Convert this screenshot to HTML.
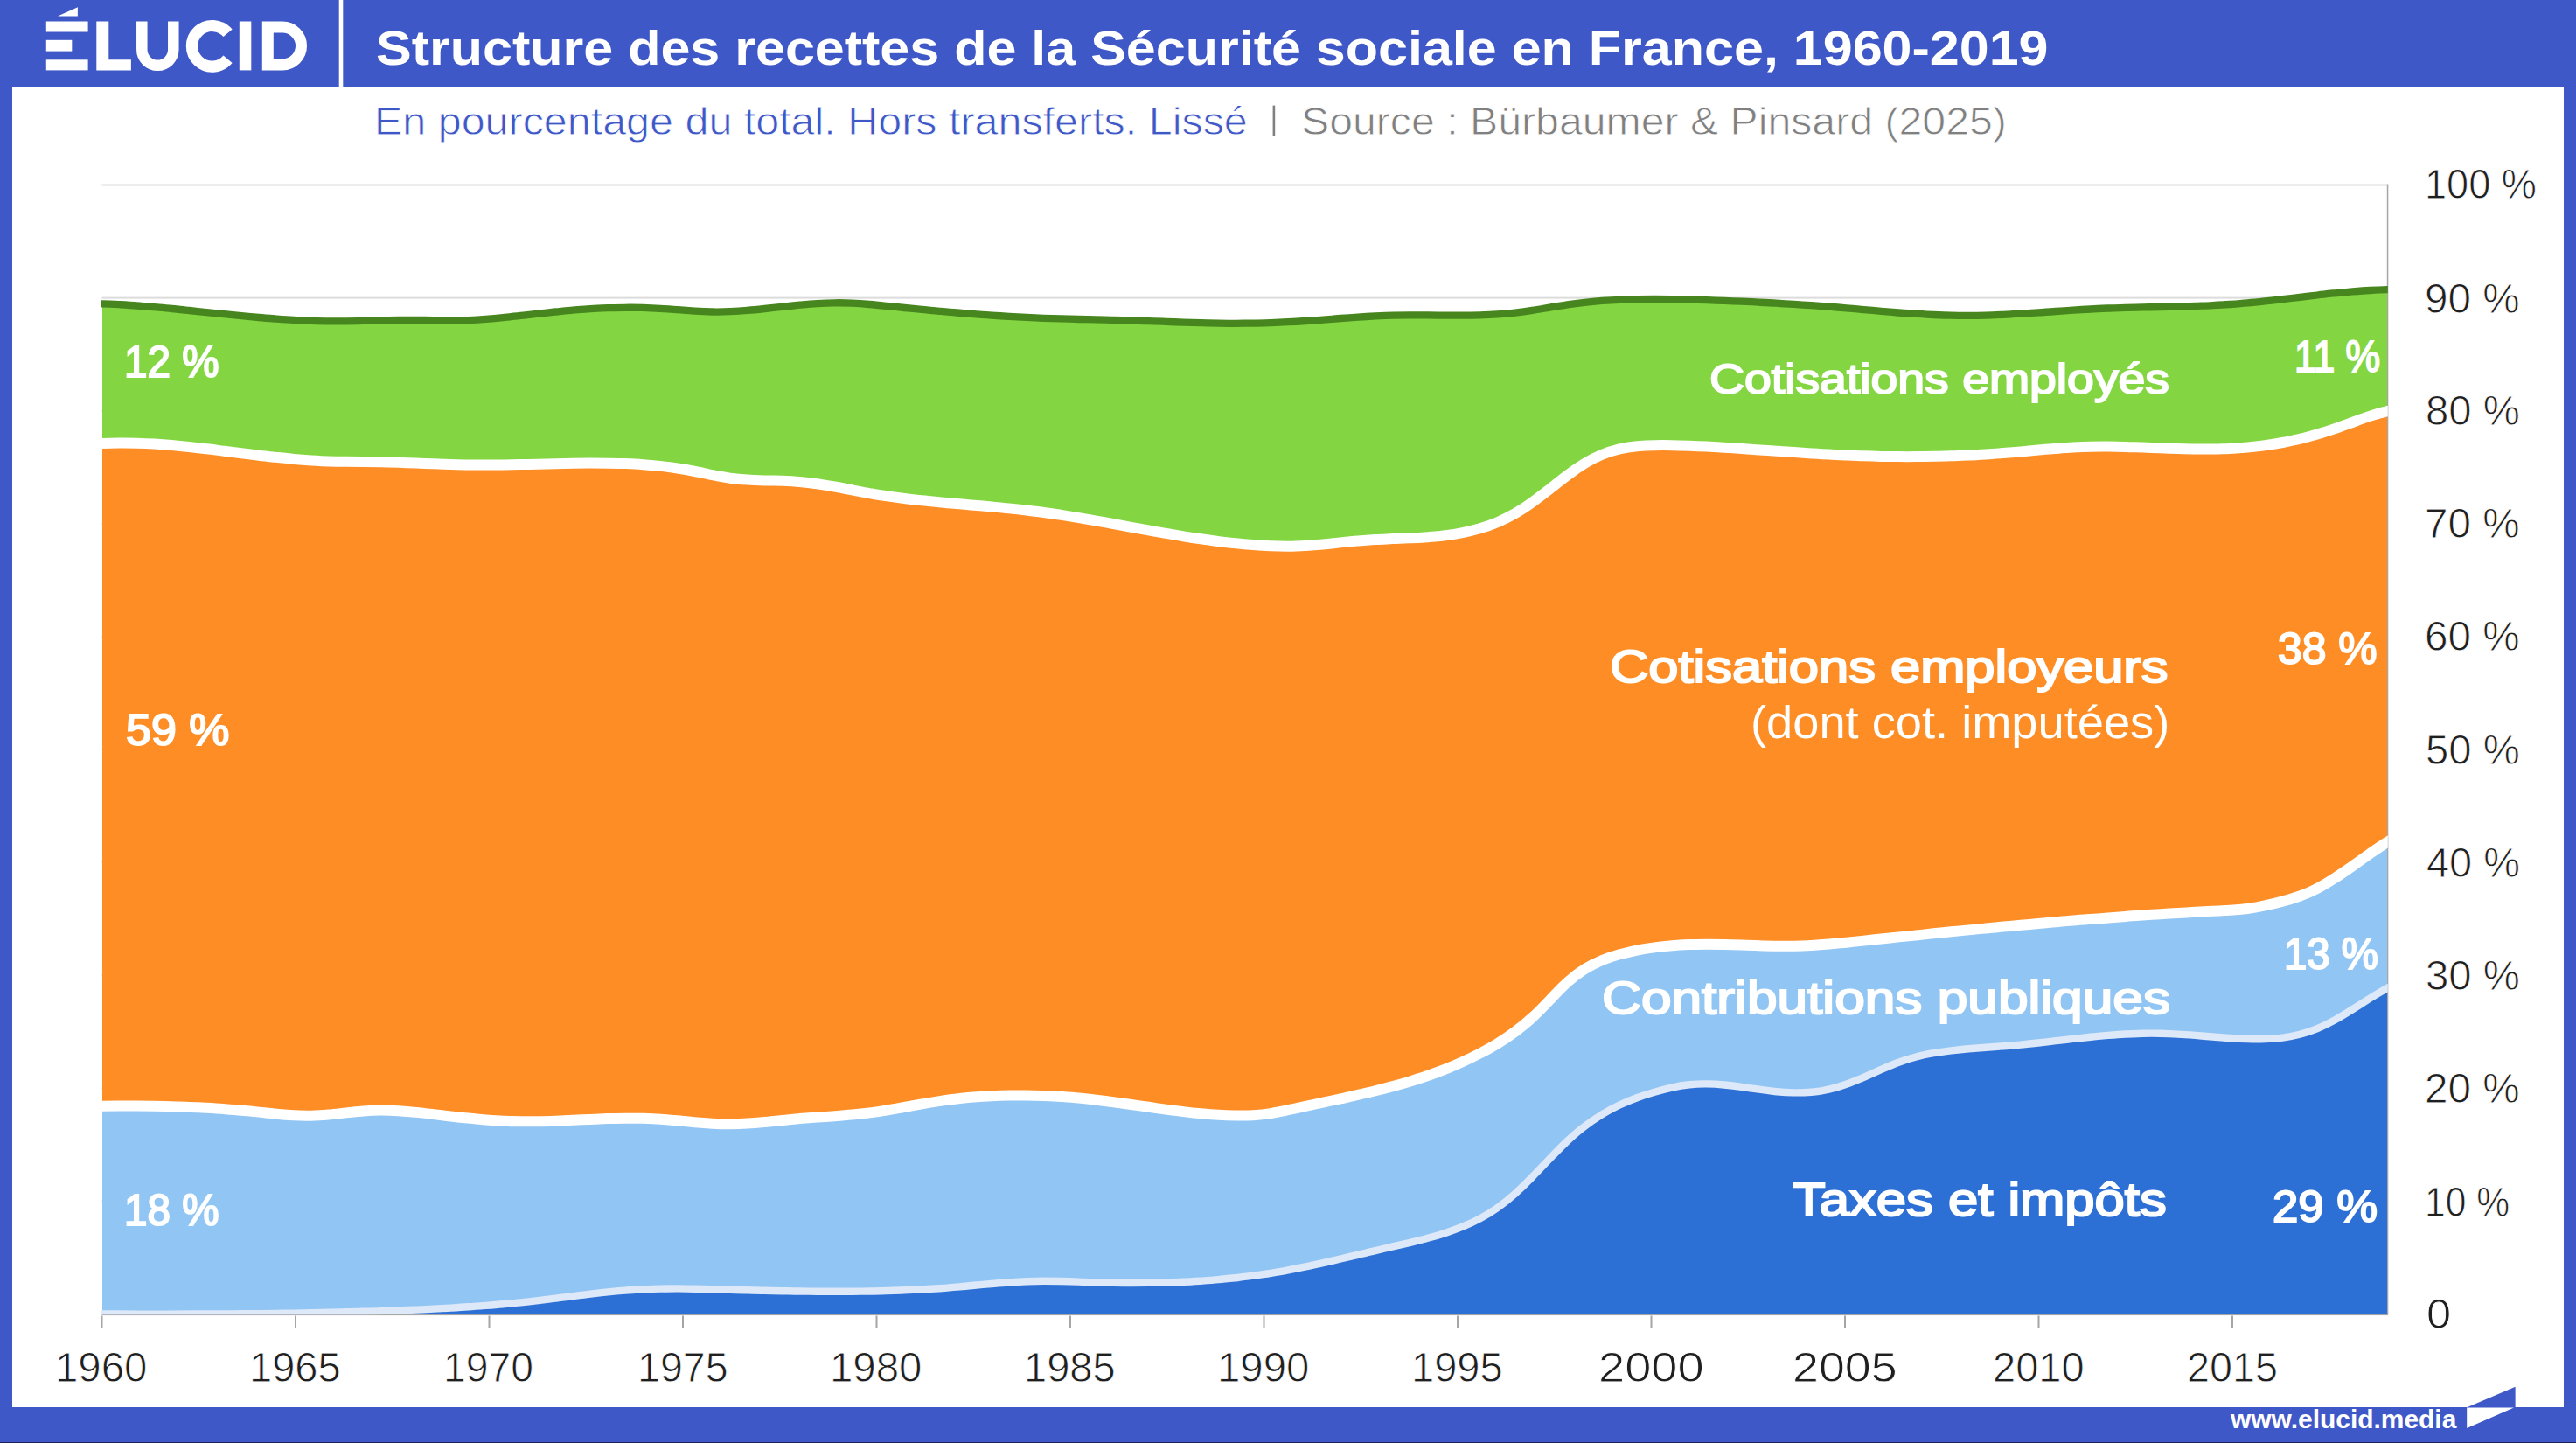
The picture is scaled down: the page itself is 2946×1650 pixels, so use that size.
<!DOCTYPE html>
<html><head><meta charset="utf-8"><title>Structure des recettes de la Sécurité sociale</title>
<style>
html,body{margin:0;padding:0}
body{width:2946px;height:1650px;background:#3f58c8;position:relative;overflow:hidden;font-family:"Liberation Sans",sans-serif}
#panel{position:absolute;left:14px;top:100px;width:2918px;height:1509px;background:#fff}
#bl{position:absolute;left:0;top:1649px;width:2946px;height:1px;background:#1c2258}
svg{position:absolute;left:0;top:0}
.t{position:absolute;white-space:nowrap;transform-origin:0 0}
</style></head><body>
<div id="panel"></div><div id="bl"></div>
<svg width="2946" height="1650" viewBox="0 0 2946 1650">
<rect x="116.5" y="1372.4" width="2613.5" height="2" fill="#dcdcdc"/>
<rect x="116.5" y="1243.3" width="2613.5" height="2" fill="#dcdcdc"/>
<rect x="116.5" y="1114.2" width="2613.5" height="2" fill="#dcdcdc"/>
<rect x="116.5" y="985.1" width="2613.5" height="2" fill="#dcdcdc"/>
<rect x="116.5" y="856.0" width="2613.5" height="2" fill="#dcdcdc"/>
<rect x="116.5" y="726.9" width="2613.5" height="2" fill="#dcdcdc"/>
<rect x="116.5" y="597.8" width="2613.5" height="2" fill="#dcdcdc"/>
<rect x="116.5" y="468.7" width="2613.5" height="2" fill="#dcdcdc"/>
<rect x="116.5" y="339.6" width="2613.5" height="2" fill="#dcdcdc"/>
<rect x="116.5" y="210.5" width="2613.5" height="2" fill="#dcdcdc"/>
<rect x="2729.8" y="210.5" width="1.5" height="1293.0" fill="#a6a6a6"/>
<rect x="116.5" y="1502.5" width="2614.5" height="1.6" fill="#a6a6a6"/>
<rect x="115.5" y="1504.5" width="2" height="14" fill="#a6a6a6"/>
<rect x="337.0" y="1504.5" width="2" height="14" fill="#a6a6a6"/>
<rect x="558.5" y="1504.5" width="2" height="14" fill="#a6a6a6"/>
<rect x="780.0" y="1504.5" width="2" height="14" fill="#a6a6a6"/>
<rect x="1001.5" y="1504.5" width="2" height="14" fill="#a6a6a6"/>
<rect x="1223.0" y="1504.5" width="2" height="14" fill="#a6a6a6"/>
<rect x="1444.5" y="1504.5" width="2" height="14" fill="#a6a6a6"/>
<rect x="1666.0" y="1504.5" width="2" height="14" fill="#a6a6a6"/>
<rect x="1887.5" y="1504.5" width="2" height="14" fill="#a6a6a6"/>
<rect x="2109.0" y="1504.5" width="2" height="14" fill="#a6a6a6"/>
<rect x="2330.5" y="1504.5" width="2" height="14" fill="#a6a6a6"/>
<rect x="2552.0" y="1504.5" width="2" height="14" fill="#a6a6a6"/>
<clipPath id="cp"><rect x="116.0" y="150" width="2614.8" height="1353.3"/></clipPath>
<g shape-rendering="crispEdges">
<path d="M116.5,347.3C123.2,347.5 129.8,347.8 136.5,348.2C143.1,348.6 149.8,349.0 156.4,349.5C163.1,350.0 169.7,350.6 176.4,351.2C183.0,351.7 189.7,352.4 196.3,353.0C203.0,353.6 209.6,354.3 216.3,355.0C222.9,355.7 229.6,356.4 236.2,357.1C242.9,357.8 249.5,358.5 256.2,359.2C262.8,359.8 269.5,360.5 276.1,361.1C282.8,361.8 289.4,362.4 296.1,363.0C302.7,363.6 309.4,364.1 316.0,364.6C322.7,365.1 329.3,365.6 336.0,365.9C342.6,366.3 349.3,366.6 355.9,366.9C362.6,367.1 369.2,367.3 375.9,367.4C382.5,367.5 389.2,367.4 395.8,367.3C402.5,367.3 409.1,367.1 415.8,366.9C422.4,366.7 429.1,366.5 435.7,366.3C442.4,366.1 449.0,366.0 455.7,365.9C462.3,365.8 469.0,365.8 475.6,365.8C482.3,365.9 488.9,366.0 495.6,366.1C502.2,366.3 508.9,366.4 515.5,366.4C522.2,366.4 528.8,366.3 535.5,366.1C542.1,365.8 548.8,365.4 555.4,364.9C562.1,364.4 568.7,363.8 575.4,363.1C582.0,362.4 588.7,361.7 595.3,360.9C602.0,360.2 608.6,359.4 615.3,358.6C621.9,357.9 628.6,357.2 635.2,356.5C641.9,355.9 648.5,355.2 655.2,354.7C661.8,354.1 668.5,353.7 675.1,353.2C681.8,352.8 688.4,352.5 695.1,352.2C701.7,352.0 708.4,351.8 715.0,351.8C721.7,351.7 728.3,351.8 735.0,351.9C741.6,352.1 748.3,352.4 754.9,352.8C761.6,353.2 768.2,353.7 774.9,354.2C781.5,354.7 788.2,355.2 794.8,355.7C801.5,356.1 808.1,356.4 814.8,356.5C821.4,356.6 828.1,356.5 834.7,356.2C841.4,355.9 848.0,355.5 854.7,354.9C861.3,354.4 868.0,353.7 874.6,353.0C881.3,352.3 887.9,351.5 894.6,350.8C901.2,350.1 907.9,349.4 914.5,348.7C921.2,348.1 927.8,347.5 934.5,347.1C941.1,346.7 947.8,346.4 954.4,346.3C961.1,346.2 967.7,346.3 974.4,346.6C981.0,346.9 987.7,347.4 994.3,348.0C1001.0,348.5 1007.6,349.2 1014.3,349.9C1020.9,350.6 1027.6,351.3 1034.2,352.0C1040.9,352.6 1047.5,353.3 1054.2,353.9C1060.8,354.6 1067.5,355.2 1074.1,355.8C1080.8,356.4 1087.4,357.0 1094.1,357.5C1100.7,358.1 1107.4,358.6 1114.0,359.1C1120.7,359.7 1127.3,360.1 1134.0,360.6C1140.6,361.0 1147.3,361.5 1153.9,361.9C1160.6,362.2 1167.2,362.6 1173.9,362.9C1180.5,363.2 1187.2,363.5 1193.8,363.8C1200.5,364.0 1207.1,364.2 1213.8,364.4C1220.4,364.6 1227.1,364.8 1233.7,365.0C1240.4,365.1 1247.0,365.3 1253.7,365.4C1260.3,365.6 1267.0,365.7 1273.6,365.9C1280.3,366.1 1286.9,366.3 1293.6,366.5C1300.2,366.7 1306.9,366.9 1313.5,367.2C1320.2,367.4 1326.8,367.6 1333.5,367.9C1340.1,368.1 1346.8,368.4 1353.4,368.6C1360.1,368.8 1366.7,369.0 1373.4,369.2C1380.0,369.4 1386.7,369.5 1393.3,369.6C1400.0,369.7 1406.6,369.8 1413.3,369.8C1419.9,369.7 1426.6,369.7 1433.2,369.6C1439.9,369.5 1446.5,369.3 1453.2,369.1C1459.8,368.8 1466.5,368.5 1473.1,368.2C1479.8,367.9 1486.4,367.5 1493.1,367.0C1499.7,366.6 1506.4,366.1 1513.0,365.6C1519.7,365.1 1526.3,364.5 1533.0,364.0C1539.6,363.5 1546.3,363.1 1552.9,362.6C1559.6,362.2 1566.2,361.8 1572.9,361.4C1579.5,361.1 1586.2,360.8 1592.8,360.7C1599.5,360.5 1606.1,360.4 1612.8,360.4C1619.4,360.4 1626.1,360.4 1632.7,360.4C1639.4,360.5 1646.0,360.6 1652.7,360.6C1659.3,360.6 1666.0,360.6 1672.6,360.6C1679.3,360.6 1685.9,360.5 1692.6,360.3C1699.2,360.1 1705.9,359.8 1712.5,359.3C1719.2,358.9 1725.8,358.4 1732.5,357.6C1739.1,356.9 1745.8,356.0 1752.4,354.9C1759.1,353.9 1765.7,352.7 1772.4,351.6C1779.0,350.5 1785.7,349.3 1792.3,348.3C1799.0,347.3 1805.6,346.5 1812.3,345.8C1818.9,345.0 1825.6,344.4 1832.2,343.9C1838.9,343.4 1845.5,343.0 1852.2,342.8C1858.8,342.5 1865.5,342.3 1872.1,342.1C1878.8,342.0 1885.4,342.0 1892.1,342.0C1898.7,342.0 1905.4,342.1 1912.0,342.2C1918.7,342.3 1925.3,342.4 1932.0,342.6C1938.6,342.8 1945.3,343.0 1951.9,343.2C1958.6,343.4 1965.2,343.7 1971.9,343.9C1978.5,344.2 1985.2,344.4 1991.8,344.7C1998.5,345.0 2005.1,345.3 2011.8,345.7C2018.4,346.0 2025.1,346.3 2031.7,346.7C2038.4,347.1 2045.0,347.5 2051.7,347.9C2058.3,348.3 2065.0,348.8 2071.6,349.2C2078.3,349.7 2084.9,350.2 2091.6,350.7C2098.2,351.2 2104.9,351.8 2111.5,352.3C2118.2,352.9 2124.8,353.5 2131.5,354.1C2138.1,354.7 2144.8,355.2 2151.4,355.8C2158.1,356.4 2164.7,356.9 2171.4,357.5C2178.0,358.0 2184.7,358.5 2191.3,358.9C2198.0,359.3 2204.6,359.7 2211.3,360.0C2217.9,360.3 2224.6,360.6 2231.2,360.7C2237.9,360.9 2244.5,360.9 2251.2,360.9C2257.8,360.9 2264.5,360.8 2271.1,360.6C2277.8,360.4 2284.4,360.1 2291.1,359.8C2297.7,359.5 2304.4,359.1 2311.0,358.7C2317.7,358.3 2324.3,357.9 2331.0,357.4C2337.6,357.0 2344.3,356.5 2350.9,356.0C2357.6,355.6 2364.2,355.1 2370.9,354.7C2377.5,354.2 2384.2,353.8 2390.8,353.5C2397.5,353.1 2404.1,352.8 2410.8,352.5C2417.4,352.3 2424.1,352.0 2430.7,351.9C2437.4,351.7 2444.0,351.5 2450.7,351.4C2457.3,351.2 2464.0,351.1 2470.6,351.0C2477.3,350.8 2483.9,350.7 2490.6,350.5C2497.2,350.4 2503.9,350.2 2510.5,350.0C2517.2,349.7 2523.8,349.5 2530.5,349.1C2537.1,348.8 2543.8,348.4 2550.4,348.0C2557.1,347.5 2563.7,347.0 2570.4,346.4C2577.0,345.8 2583.7,345.1 2590.3,344.4C2597.0,343.7 2603.6,342.9 2610.3,342.2C2616.9,341.4 2623.6,340.6 2630.2,339.8C2636.9,339.0 2643.5,338.3 2650.2,337.5C2656.8,336.7 2663.5,336.0 2670.1,335.3C2676.8,334.6 2683.4,334.0 2690.1,333.4C2696.7,332.9 2703.4,332.4 2710.0,332.0C2716.7,331.6 2723.3,331.3 2730.0,331.1L2730.0,1503.3L116.5,1503.3Z" fill="#83d641"/>
<path d="M116.5,507.1C123.2,506.8 129.8,506.6 136.5,506.5C143.1,506.4 149.8,506.5 156.4,506.7C163.1,506.9 169.7,507.2 176.4,507.6C183.0,508.0 189.7,508.5 196.3,509.1C203.0,509.7 209.6,510.3 216.3,511.0C222.9,511.7 229.6,512.5 236.2,513.3C242.9,514.0 249.5,514.9 256.2,515.7C262.8,516.5 269.5,517.4 276.1,518.2C282.8,519.1 289.4,519.9 296.1,520.7C302.7,521.5 309.4,522.2 316.0,522.9C322.7,523.6 329.3,524.3 336.0,524.9C342.6,525.5 349.3,526.0 355.9,526.4C362.6,526.8 369.2,527.2 375.9,527.4C382.5,527.6 389.2,527.7 395.8,527.8C402.5,527.8 409.1,527.9 415.8,528.0C422.4,528.0 429.1,528.1 435.7,528.3C442.4,528.4 449.0,528.6 455.7,528.8C462.3,529.1 469.0,529.3 475.6,529.6C482.3,529.8 488.9,530.1 495.6,530.3C502.2,530.5 508.9,530.8 515.5,530.9C522.2,531.1 528.8,531.3 535.5,531.4C542.1,531.5 548.8,531.5 555.4,531.5C562.1,531.5 568.7,531.5 575.4,531.4C582.0,531.3 588.7,531.2 595.3,531.1C602.0,530.9 608.6,530.8 615.3,530.7C621.9,530.5 628.6,530.4 635.2,530.2C641.9,530.1 648.5,529.9 655.2,529.8C661.8,529.7 668.5,529.6 675.1,529.6C681.8,529.6 688.4,529.6 695.1,529.7C701.7,529.7 708.4,529.9 715.0,530.1C721.7,530.4 728.3,530.7 735.0,531.2C741.6,531.6 748.3,532.2 754.9,532.9C761.6,533.6 768.2,534.5 774.9,535.5C781.5,536.5 788.2,537.7 794.8,539.0C801.5,540.3 808.1,541.8 814.8,543.2C821.4,544.5 828.1,545.8 834.7,546.7C841.4,547.6 848.0,548.2 854.7,548.6C861.3,549.0 868.0,549.2 874.6,549.4C881.3,549.6 887.9,549.6 894.6,549.8C901.2,550.0 907.9,550.3 914.5,550.9C921.2,551.4 927.8,552.2 934.5,553.2C941.1,554.2 947.8,555.3 954.4,556.5C961.1,557.7 967.7,559.0 974.4,560.3C981.0,561.6 987.7,562.9 994.3,564.1C1001.0,565.2 1007.6,566.3 1014.3,567.3C1020.9,568.3 1027.6,569.2 1034.2,570.0C1040.9,570.8 1047.5,571.6 1054.2,572.3C1060.8,573.0 1067.5,573.6 1074.1,574.2C1080.8,574.9 1087.4,575.4 1094.1,576.0C1100.7,576.6 1107.4,577.2 1114.0,577.7C1120.7,578.3 1127.3,578.9 1134.0,579.5C1140.6,580.1 1147.3,580.7 1153.9,581.4C1160.6,582.0 1167.2,582.7 1173.9,583.5C1180.5,584.3 1187.2,585.1 1193.8,586.0C1200.5,586.9 1207.1,587.9 1213.8,588.9C1220.4,589.9 1227.1,591.0 1233.7,592.1C1240.4,593.2 1247.0,594.4 1253.7,595.6C1260.3,596.7 1267.0,597.9 1273.6,599.1C1280.3,600.4 1286.9,601.6 1293.6,602.8C1300.2,604.0 1306.9,605.2 1313.5,606.4C1320.2,607.6 1326.8,608.8 1333.5,609.9C1340.1,611.1 1346.8,612.2 1353.4,613.3C1360.1,614.4 1366.7,615.4 1373.4,616.3C1380.0,617.3 1386.7,618.2 1393.3,619.1C1400.0,619.9 1406.6,620.7 1413.3,621.3C1419.9,622.0 1426.6,622.6 1433.2,623.1C1439.9,623.6 1446.5,624.0 1453.2,624.3C1459.8,624.6 1466.5,624.7 1473.1,624.7C1479.8,624.7 1486.4,624.4 1493.1,624.0C1499.7,623.6 1506.4,623.1 1513.0,622.5C1519.7,621.8 1526.3,621.1 1533.0,620.4C1539.6,619.7 1546.3,619.0 1552.9,618.5C1559.6,617.9 1566.2,617.4 1572.9,617.0C1579.5,616.6 1586.2,616.4 1592.8,616.1C1599.5,615.9 1606.1,615.6 1612.8,615.3C1619.4,615.1 1626.1,614.7 1632.7,614.2C1639.4,613.8 1646.0,613.1 1652.7,612.3C1659.3,611.5 1666.0,610.5 1672.6,609.2C1679.3,607.8 1685.9,606.2 1692.6,604.3C1699.2,602.3 1705.9,600.0 1712.5,597.2C1719.2,594.4 1725.8,591.1 1732.5,587.3C1739.1,583.4 1745.8,579.1 1752.4,574.3C1759.1,569.6 1765.7,564.4 1772.4,559.2C1779.0,553.9 1785.7,548.6 1792.3,543.6C1799.0,538.6 1805.6,534.0 1812.3,529.9C1818.9,525.8 1825.6,522.4 1832.2,519.7C1838.9,517.0 1845.5,514.9 1852.2,513.4C1858.8,511.9 1865.5,510.9 1872.1,510.3C1878.8,509.7 1885.4,509.3 1892.1,509.2C1898.7,509.1 1905.4,509.1 1912.0,509.2C1918.7,509.3 1925.3,509.5 1932.0,509.7C1938.6,509.9 1945.3,510.2 1951.9,510.6C1958.6,510.9 1965.2,511.3 1971.9,511.7C1978.5,512.1 1985.2,512.6 1991.8,513.0C1998.5,513.5 2005.1,513.9 2011.8,514.4C2018.4,514.8 2025.1,515.3 2031.7,515.7C2038.4,516.2 2045.0,516.7 2051.7,517.1C2058.3,517.5 2065.0,518.0 2071.6,518.4C2078.3,518.8 2084.9,519.2 2091.6,519.5C2098.2,519.9 2104.9,520.2 2111.5,520.5C2118.2,520.8 2124.8,521.1 2131.5,521.3C2138.1,521.5 2144.8,521.7 2151.4,521.9C2158.1,522.0 2164.7,522.1 2171.4,522.1C2178.0,522.2 2184.7,522.2 2191.3,522.1C2198.0,522.1 2204.6,522.0 2211.3,521.8C2217.9,521.7 2224.6,521.5 2231.2,521.3C2237.9,521.1 2244.5,520.8 2251.2,520.5C2257.8,520.2 2264.5,519.8 2271.1,519.4C2277.8,519.0 2284.4,518.5 2291.1,518.0C2297.7,517.5 2304.4,516.9 2311.0,516.4C2317.7,515.8 2324.3,515.2 2331.0,514.6C2337.6,514.0 2344.3,513.5 2350.9,513.0C2357.6,512.5 2364.2,512.0 2370.9,511.6C2377.5,511.2 2384.2,510.9 2390.8,510.8C2397.5,510.6 2404.1,510.5 2410.8,510.6C2417.4,510.6 2424.1,510.7 2430.7,510.9C2437.4,511.0 2444.0,511.3 2450.7,511.5C2457.3,511.8 2464.0,512.0 2470.6,512.3C2477.3,512.5 2483.9,512.8 2490.6,513.0C2497.2,513.2 2503.9,513.4 2510.5,513.5C2517.2,513.6 2523.8,513.6 2530.5,513.5C2537.1,513.4 2543.8,513.3 2550.4,512.9C2557.1,512.6 2563.7,512.2 2570.4,511.6C2577.0,511.0 2583.7,510.2 2590.3,509.3C2597.0,508.4 2603.6,507.3 2610.3,506.0C2616.9,504.8 2623.6,503.3 2630.2,501.8C2636.9,500.2 2643.5,498.4 2650.2,496.5C2656.8,494.5 2663.5,492.4 2670.1,490.1C2676.8,487.9 2683.4,485.4 2690.1,483.0C2696.7,480.5 2703.4,478.1 2710.0,475.9C2716.7,473.7 2723.3,471.8 2730.0,470.2L2730.0,1503.3L116.5,1503.3Z" fill="#fd8d24"/>
<path d="M116.5,1264.8C123.2,1264.7 129.8,1264.6 136.5,1264.6C143.1,1264.6 149.8,1264.6 156.4,1264.6C163.1,1264.6 169.7,1264.7 176.4,1264.8C183.0,1264.9 189.7,1265.0 196.3,1265.2C203.0,1265.4 209.6,1265.6 216.3,1265.9C222.9,1266.2 229.6,1266.5 236.2,1266.8C242.9,1267.2 249.5,1267.6 256.2,1268.1C262.8,1268.6 269.5,1269.1 276.1,1269.7C282.8,1270.3 289.4,1270.9 296.1,1271.6C302.7,1272.3 309.4,1273.1 316.0,1273.7C322.7,1274.4 329.3,1274.9 336.0,1275.3C342.6,1275.7 349.3,1275.8 355.9,1275.7C362.6,1275.6 369.2,1275.1 375.9,1274.5C382.5,1273.9 389.2,1273.1 395.8,1272.4C402.5,1271.6 409.1,1270.9 415.8,1270.4C422.4,1269.9 429.1,1269.6 435.7,1269.5C442.4,1269.5 449.0,1269.8 455.7,1270.2C462.3,1270.6 469.0,1271.2 475.6,1271.9C482.3,1272.5 488.9,1273.3 495.6,1274.1C502.2,1274.9 508.9,1275.7 515.5,1276.5C522.2,1277.3 528.8,1278.0 535.5,1278.6C542.1,1279.3 548.8,1279.9 555.4,1280.4C562.1,1280.9 568.7,1281.4 575.4,1281.7C582.0,1282.0 588.7,1282.2 595.3,1282.3C602.0,1282.4 608.6,1282.3 615.3,1282.2C621.9,1282.1 628.6,1281.9 635.2,1281.7C641.9,1281.4 648.5,1281.1 655.2,1280.8C661.8,1280.5 668.5,1280.2 675.1,1279.9C681.8,1279.6 688.4,1279.4 695.1,1279.1C701.7,1278.9 708.4,1278.8 715.0,1278.7C721.7,1278.6 728.3,1278.7 735.0,1278.8C741.6,1279.0 748.3,1279.2 754.9,1279.7C761.6,1280.1 768.2,1280.7 774.9,1281.3C781.5,1281.9 788.2,1282.6 794.8,1283.2C801.5,1283.8 808.1,1284.3 814.8,1284.7C821.4,1285.1 828.1,1285.3 834.7,1285.3C841.4,1285.2 848.0,1285.0 854.7,1284.6C861.3,1284.2 868.0,1283.6 874.6,1283.0C881.3,1282.4 887.9,1281.7 894.6,1281.0C901.2,1280.3 907.9,1279.7 914.5,1279.1C921.2,1278.5 927.8,1278.0 934.5,1277.6C941.1,1277.1 947.8,1276.7 954.4,1276.2C961.1,1275.7 967.7,1275.2 974.4,1274.6C981.0,1274.0 987.7,1273.3 994.3,1272.4C1001.0,1271.6 1007.6,1270.5 1014.3,1269.5C1020.9,1268.4 1027.6,1267.2 1034.2,1266.0C1040.9,1264.8 1047.5,1263.6 1054.2,1262.4C1060.8,1261.2 1067.5,1260.1 1074.1,1259.1C1080.8,1258.1 1087.4,1257.2 1094.1,1256.5C1100.7,1255.7 1107.4,1255.1 1114.0,1254.5C1120.7,1254.0 1127.3,1253.6 1134.0,1253.3C1140.6,1252.9 1147.3,1252.7 1153.9,1252.6C1160.6,1252.5 1167.2,1252.5 1173.9,1252.5C1180.5,1252.6 1187.2,1252.8 1193.8,1253.0C1200.5,1253.3 1207.1,1253.6 1213.8,1254.0C1220.4,1254.5 1227.1,1255.0 1233.7,1255.6C1240.4,1256.2 1247.0,1256.9 1253.7,1257.7C1260.3,1258.5 1267.0,1259.3 1273.6,1260.2C1280.3,1261.1 1286.9,1262.0 1293.6,1263.0C1300.2,1263.9 1306.9,1264.9 1313.5,1265.8C1320.2,1266.8 1326.8,1267.7 1333.5,1268.6C1340.1,1269.5 1346.8,1270.3 1353.4,1271.1C1360.1,1271.9 1366.7,1272.6 1373.4,1273.2C1380.0,1273.8 1386.7,1274.4 1393.3,1274.8C1400.0,1275.2 1406.6,1275.4 1413.3,1275.5C1419.9,1275.7 1426.6,1275.6 1433.2,1275.2C1439.9,1274.8 1446.5,1274.1 1453.2,1273.1C1459.8,1272.1 1466.5,1270.7 1473.1,1269.2C1479.8,1267.8 1486.4,1266.3 1493.1,1264.9C1499.7,1263.5 1506.4,1262.0 1513.0,1260.6C1519.7,1259.2 1526.3,1257.8 1533.0,1256.4C1539.6,1254.9 1546.3,1253.5 1552.9,1251.9C1559.6,1250.4 1566.2,1248.9 1572.9,1247.2C1579.5,1245.6 1586.2,1243.9 1592.8,1242.1C1599.5,1240.3 1606.1,1238.4 1612.8,1236.4C1619.4,1234.4 1626.1,1232.2 1632.7,1230.0C1639.4,1227.7 1646.0,1225.2 1652.7,1222.6C1659.3,1220.0 1666.0,1217.2 1672.6,1214.1C1679.3,1211.1 1685.9,1207.9 1692.6,1204.5C1699.2,1201.0 1705.9,1197.4 1712.5,1193.3C1719.2,1189.3 1725.8,1184.9 1732.5,1179.9C1739.1,1175.0 1745.8,1169.6 1752.4,1163.5C1759.1,1157.5 1765.7,1150.6 1772.4,1143.5C1779.0,1136.5 1785.7,1129.4 1792.3,1123.4C1799.0,1117.4 1805.6,1112.4 1812.3,1108.2C1818.9,1104.1 1825.6,1100.8 1832.2,1098.0C1838.9,1095.3 1845.5,1093.1 1852.2,1091.3C1858.8,1089.5 1865.5,1088.0 1872.1,1086.6C1878.8,1085.3 1885.4,1084.3 1892.1,1083.4C1898.7,1082.5 1905.4,1081.8 1912.0,1081.3C1918.7,1080.7 1925.3,1080.4 1932.0,1080.1C1938.6,1079.9 1945.3,1079.8 1951.9,1079.7C1958.6,1079.7 1965.2,1079.8 1971.9,1079.9C1978.5,1080.0 1985.2,1080.2 1991.8,1080.5C1998.5,1080.7 2005.1,1080.9 2011.8,1081.2C2018.4,1081.4 2025.1,1081.6 2031.7,1081.7C2038.4,1081.8 2045.0,1081.8 2051.7,1081.7C2058.3,1081.6 2065.0,1081.3 2071.6,1080.9C2078.3,1080.6 2084.9,1080.1 2091.6,1079.5C2098.2,1078.9 2104.9,1078.3 2111.5,1077.7C2118.2,1077.0 2124.8,1076.3 2131.5,1075.6C2138.1,1074.9 2144.8,1074.2 2151.4,1073.5C2158.1,1072.8 2164.7,1072.1 2171.4,1071.4C2178.0,1070.7 2184.7,1070.0 2191.3,1069.4C2198.0,1068.7 2204.6,1068.0 2211.3,1067.3C2217.9,1066.7 2224.6,1066.0 2231.2,1065.3C2237.9,1064.7 2244.5,1064.0 2251.2,1063.4C2257.8,1062.7 2264.5,1062.1 2271.1,1061.5C2277.8,1060.8 2284.4,1060.2 2291.1,1059.6C2297.7,1059.0 2304.4,1058.4 2311.0,1057.8C2317.7,1057.2 2324.3,1056.6 2331.0,1056.0C2337.6,1055.4 2344.3,1054.8 2350.9,1054.3C2357.6,1053.7 2364.2,1053.1 2370.9,1052.6C2377.5,1052.0 2384.2,1051.5 2390.8,1051.0C2397.5,1050.4 2404.1,1049.9 2410.8,1049.4C2417.4,1048.9 2424.1,1048.4 2430.7,1047.9C2437.4,1047.5 2444.0,1047.0 2450.7,1046.5C2457.3,1046.1 2464.0,1045.6 2470.6,1045.2C2477.3,1044.8 2483.9,1044.4 2490.6,1044.0C2497.2,1043.6 2503.9,1043.2 2510.5,1042.8C2517.2,1042.4 2523.8,1042.1 2530.5,1041.7C2537.1,1041.4 2543.8,1041.1 2550.4,1040.7C2557.1,1040.4 2563.7,1039.9 2570.4,1039.0C2577.0,1038.1 2583.7,1036.9 2590.3,1035.4C2597.0,1034.0 2603.6,1032.4 2610.3,1030.6C2616.9,1028.9 2623.6,1026.9 2630.2,1024.5C2636.9,1022.1 2643.5,1019.2 2650.2,1015.8C2656.8,1012.3 2663.5,1008.3 2670.1,1004.0C2676.8,999.8 2683.4,995.2 2690.1,990.5C2696.7,985.8 2703.4,981.0 2710.0,976.3C2716.7,971.7 2723.3,967.1 2730.0,962.9L2730.0,1503.3L116.5,1503.3Z" fill="#91c5f3"/>
<path d="M116.5,1502.5C123.2,1502.5 129.8,1502.5 136.5,1502.5C143.1,1502.5 149.8,1502.5 156.4,1502.6C163.1,1502.6 169.7,1502.6 176.4,1502.6C183.0,1502.6 189.7,1502.6 196.3,1502.6C203.0,1502.6 209.6,1502.6 216.3,1502.5C222.9,1502.5 229.6,1502.5 236.2,1502.5C242.9,1502.5 249.5,1502.4 256.2,1502.4C262.8,1502.4 269.5,1502.3 276.1,1502.3C282.8,1502.2 289.4,1502.2 296.1,1502.1C302.7,1502.0 309.4,1501.9 316.0,1501.9C322.7,1501.8 329.3,1501.7 336.0,1501.6C342.6,1501.5 349.3,1501.4 355.9,1501.2C362.6,1501.1 369.2,1501.0 375.9,1500.8C382.5,1500.7 389.2,1500.5 395.8,1500.3C402.5,1500.2 409.1,1500.0 415.8,1499.8C422.4,1499.6 429.1,1499.4 435.7,1499.1C442.4,1498.9 449.0,1498.7 455.7,1498.4C462.3,1498.1 469.0,1497.9 475.6,1497.6C482.3,1497.3 488.9,1497.0 495.6,1496.6C502.2,1496.3 508.9,1495.9 515.5,1495.6C522.2,1495.2 528.8,1494.8 535.5,1494.3C542.1,1493.9 548.8,1493.4 555.4,1492.9C562.1,1492.4 568.7,1491.9 575.4,1491.3C582.0,1490.7 588.7,1490.1 595.3,1489.4C602.0,1488.7 608.6,1488.0 615.3,1487.2C621.9,1486.4 628.6,1485.5 635.2,1484.7C641.9,1483.8 648.5,1482.9 655.2,1482.1C661.8,1481.2 668.5,1480.4 675.1,1479.6C681.8,1478.8 688.4,1478.1 695.1,1477.4C701.7,1476.7 708.4,1476.1 715.0,1475.6C721.7,1475.1 728.3,1474.7 735.0,1474.3C741.6,1474.0 748.3,1473.7 754.9,1473.6C761.6,1473.4 768.2,1473.4 774.9,1473.4C781.5,1473.5 788.2,1473.6 794.8,1473.8C801.5,1474.0 808.1,1474.1 814.8,1474.3C821.4,1474.5 828.1,1474.7 834.7,1474.8C841.4,1475.0 848.0,1475.2 854.7,1475.3C861.3,1475.5 868.0,1475.7 874.6,1475.8C881.3,1476.0 887.9,1476.1 894.6,1476.2C901.2,1476.3 907.9,1476.5 914.5,1476.5C921.2,1476.6 927.8,1476.7 934.5,1476.8C941.1,1476.8 947.8,1476.8 954.4,1476.8C961.1,1476.8 967.7,1476.8 974.4,1476.8C981.0,1476.7 987.7,1476.6 994.3,1476.5C1001.0,1476.4 1007.6,1476.2 1014.3,1476.0C1020.9,1475.8 1027.6,1475.6 1034.2,1475.3C1040.9,1475.1 1047.5,1474.8 1054.2,1474.4C1060.8,1474.0 1067.5,1473.6 1074.1,1473.2C1080.8,1472.7 1087.4,1472.2 1094.1,1471.6C1100.7,1471.0 1107.4,1470.4 1114.0,1469.8C1120.7,1469.2 1127.3,1468.6 1134.0,1468.0C1140.6,1467.4 1147.3,1466.9 1153.9,1466.4C1160.6,1465.9 1167.2,1465.5 1173.9,1465.3C1180.5,1465.0 1187.2,1464.8 1193.8,1464.8C1200.5,1464.8 1207.1,1464.9 1213.8,1465.0C1220.4,1465.2 1227.1,1465.4 1233.7,1465.6C1240.4,1465.9 1247.0,1466.1 1253.7,1466.3C1260.3,1466.5 1267.0,1466.7 1273.6,1466.8C1280.3,1466.9 1286.9,1467.0 1293.6,1467.0C1300.2,1467.0 1306.9,1467.0 1313.5,1466.9C1320.2,1466.9 1326.8,1466.7 1333.5,1466.5C1340.1,1466.3 1346.8,1466.1 1353.4,1465.8C1360.1,1465.5 1366.7,1465.1 1373.4,1464.7C1380.0,1464.2 1386.7,1463.7 1393.3,1463.1C1400.0,1462.6 1406.6,1461.9 1413.3,1461.2C1419.9,1460.4 1426.6,1459.6 1433.2,1458.7C1439.9,1457.8 1446.5,1456.9 1453.2,1455.8C1459.8,1454.7 1466.5,1453.6 1473.1,1452.3C1479.8,1451.1 1486.4,1449.8 1493.1,1448.4C1499.7,1447.0 1506.4,1445.6 1513.0,1444.1C1519.7,1442.6 1526.3,1441.1 1533.0,1439.5C1539.6,1437.9 1546.3,1436.4 1552.9,1434.8C1559.6,1433.2 1566.2,1431.6 1572.9,1430.1C1579.5,1428.5 1586.2,1427.0 1592.8,1425.4C1599.5,1423.9 1606.1,1422.4 1612.8,1420.8C1619.4,1419.2 1626.1,1417.6 1632.7,1415.8C1639.4,1414.0 1646.0,1412.1 1652.7,1409.9C1659.3,1407.8 1666.0,1405.4 1672.6,1402.7C1679.3,1400.0 1685.9,1397.0 1692.6,1393.4C1699.2,1389.9 1705.9,1385.8 1712.5,1381.1C1719.2,1376.5 1725.8,1371.2 1732.5,1365.2C1739.1,1359.2 1745.8,1352.6 1752.4,1345.8C1759.1,1339.0 1765.7,1331.9 1772.4,1324.9C1779.0,1318.0 1785.7,1311.2 1792.3,1304.9C1799.0,1298.6 1805.6,1292.9 1812.3,1287.9C1818.9,1282.8 1825.6,1278.3 1832.2,1274.2C1838.9,1270.2 1845.5,1266.6 1852.2,1263.5C1858.8,1260.4 1865.5,1257.6 1872.1,1255.2C1878.8,1252.7 1885.4,1250.6 1892.1,1248.7C1898.7,1246.8 1905.4,1245.1 1912.0,1243.6C1918.7,1242.1 1925.3,1241.0 1932.0,1240.3C1938.6,1239.6 1945.3,1239.3 1951.9,1239.4C1958.6,1239.4 1965.2,1239.8 1971.9,1240.5C1978.5,1241.1 1985.2,1241.9 1991.8,1242.9C1998.5,1243.8 2005.1,1244.8 2011.8,1245.7C2018.4,1246.7 2025.1,1247.5 2031.7,1248.2C2038.4,1248.8 2045.0,1249.2 2051.7,1249.4C2058.3,1249.5 2065.0,1249.3 2071.6,1248.7C2078.3,1248.2 2084.9,1247.2 2091.6,1245.6C2098.2,1244.1 2104.9,1242.1 2111.5,1239.7C2118.2,1237.3 2124.8,1234.6 2131.5,1231.8C2138.1,1228.9 2144.8,1225.9 2151.4,1222.9C2158.1,1220.0 2164.7,1217.2 2171.4,1214.7C2178.0,1212.2 2184.7,1210.2 2191.3,1208.5C2198.0,1206.7 2204.6,1205.4 2211.3,1204.2C2217.9,1203.0 2224.6,1202.1 2231.2,1201.3C2237.9,1200.5 2244.5,1199.8 2251.2,1199.2C2257.8,1198.7 2264.5,1198.2 2271.1,1197.7C2277.8,1197.2 2284.4,1196.8 2291.1,1196.3C2297.7,1195.8 2304.4,1195.2 2311.0,1194.6C2317.7,1193.9 2324.3,1193.2 2331.0,1192.5C2337.6,1191.8 2344.3,1191.0 2350.9,1190.2C2357.6,1189.5 2364.2,1188.7 2370.9,1187.9C2377.5,1187.2 2384.2,1186.5 2390.8,1185.8C2397.5,1185.1 2404.1,1184.5 2410.8,1183.9C2417.4,1183.4 2424.1,1182.9 2430.7,1182.5C2437.4,1182.1 2444.0,1181.9 2450.7,1181.7C2457.3,1181.6 2464.0,1181.6 2470.6,1181.7C2477.3,1181.9 2483.9,1182.2 2490.6,1182.6C2497.2,1182.9 2503.9,1183.4 2510.5,1183.9C2517.2,1184.4 2523.8,1185.0 2530.5,1185.5C2537.1,1186.0 2543.8,1186.6 2550.4,1187.0C2557.1,1187.5 2563.7,1187.9 2570.4,1188.1C2577.0,1188.3 2583.7,1188.4 2590.3,1188.1C2597.0,1187.9 2603.6,1187.4 2610.3,1186.6C2616.9,1185.7 2623.6,1184.5 2630.2,1182.8C2636.9,1181.1 2643.5,1178.9 2650.2,1176.2C2656.8,1173.4 2663.5,1170.1 2670.1,1166.4C2676.8,1162.7 2683.4,1158.6 2690.1,1154.4C2696.7,1150.2 2703.4,1146.0 2710.0,1141.8C2716.7,1137.6 2723.3,1133.6 2730.0,1129.9L2730.0,1503.3L116.5,1503.3Z" fill="#2d70d5"/>
</g>
<g clip-path="url(#cp)" fill="none">
<path d="M106.5,346.9L116.5,347.3C123.2,347.5 129.8,347.8 136.5,348.2C143.1,348.6 149.8,349.0 156.4,349.5C163.1,350.0 169.7,350.6 176.4,351.2C183.0,351.7 189.7,352.4 196.3,353.0C203.0,353.6 209.6,354.3 216.3,355.0C222.9,355.7 229.6,356.4 236.2,357.1C242.9,357.8 249.5,358.5 256.2,359.2C262.8,359.8 269.5,360.5 276.1,361.1C282.8,361.8 289.4,362.4 296.1,363.0C302.7,363.6 309.4,364.1 316.0,364.6C322.7,365.1 329.3,365.6 336.0,365.9C342.6,366.3 349.3,366.6 355.9,366.9C362.6,367.1 369.2,367.3 375.9,367.4C382.5,367.5 389.2,367.4 395.8,367.3C402.5,367.3 409.1,367.1 415.8,366.9C422.4,366.7 429.1,366.5 435.7,366.3C442.4,366.1 449.0,366.0 455.7,365.9C462.3,365.8 469.0,365.8 475.6,365.8C482.3,365.9 488.9,366.0 495.6,366.1C502.2,366.3 508.9,366.4 515.5,366.4C522.2,366.4 528.8,366.3 535.5,366.1C542.1,365.8 548.8,365.4 555.4,364.9C562.1,364.4 568.7,363.8 575.4,363.1C582.0,362.4 588.7,361.7 595.3,360.9C602.0,360.2 608.6,359.4 615.3,358.6C621.9,357.9 628.6,357.2 635.2,356.5C641.9,355.9 648.5,355.2 655.2,354.7C661.8,354.1 668.5,353.7 675.1,353.2C681.8,352.8 688.4,352.5 695.1,352.2C701.7,352.0 708.4,351.8 715.0,351.8C721.7,351.7 728.3,351.8 735.0,351.9C741.6,352.1 748.3,352.4 754.9,352.8C761.6,353.2 768.2,353.7 774.9,354.2C781.5,354.7 788.2,355.2 794.8,355.7C801.5,356.1 808.1,356.4 814.8,356.5C821.4,356.6 828.1,356.5 834.7,356.2C841.4,355.9 848.0,355.5 854.7,354.9C861.3,354.4 868.0,353.7 874.6,353.0C881.3,352.3 887.9,351.5 894.6,350.8C901.2,350.1 907.9,349.4 914.5,348.7C921.2,348.1 927.8,347.5 934.5,347.1C941.1,346.7 947.8,346.4 954.4,346.3C961.1,346.2 967.7,346.3 974.4,346.6C981.0,346.9 987.7,347.4 994.3,348.0C1001.0,348.5 1007.6,349.2 1014.3,349.9C1020.9,350.6 1027.6,351.3 1034.2,352.0C1040.9,352.6 1047.5,353.3 1054.2,353.9C1060.8,354.6 1067.5,355.2 1074.1,355.8C1080.8,356.4 1087.4,357.0 1094.1,357.5C1100.7,358.1 1107.4,358.6 1114.0,359.1C1120.7,359.7 1127.3,360.1 1134.0,360.6C1140.6,361.0 1147.3,361.5 1153.9,361.9C1160.6,362.2 1167.2,362.6 1173.9,362.9C1180.5,363.2 1187.2,363.5 1193.8,363.8C1200.5,364.0 1207.1,364.2 1213.8,364.4C1220.4,364.6 1227.1,364.8 1233.7,365.0C1240.4,365.1 1247.0,365.3 1253.7,365.4C1260.3,365.6 1267.0,365.7 1273.6,365.9C1280.3,366.1 1286.9,366.3 1293.6,366.5C1300.2,366.7 1306.9,366.9 1313.5,367.2C1320.2,367.4 1326.8,367.6 1333.5,367.9C1340.1,368.1 1346.8,368.4 1353.4,368.6C1360.1,368.8 1366.7,369.0 1373.4,369.2C1380.0,369.4 1386.7,369.5 1393.3,369.6C1400.0,369.7 1406.6,369.8 1413.3,369.8C1419.9,369.7 1426.6,369.7 1433.2,369.6C1439.9,369.5 1446.5,369.3 1453.2,369.1C1459.8,368.8 1466.5,368.5 1473.1,368.2C1479.8,367.9 1486.4,367.5 1493.1,367.0C1499.7,366.6 1506.4,366.1 1513.0,365.6C1519.7,365.1 1526.3,364.5 1533.0,364.0C1539.6,363.5 1546.3,363.1 1552.9,362.6C1559.6,362.2 1566.2,361.8 1572.9,361.4C1579.5,361.1 1586.2,360.8 1592.8,360.7C1599.5,360.5 1606.1,360.4 1612.8,360.4C1619.4,360.4 1626.1,360.4 1632.7,360.4C1639.4,360.5 1646.0,360.6 1652.7,360.6C1659.3,360.6 1666.0,360.6 1672.6,360.6C1679.3,360.6 1685.9,360.5 1692.6,360.3C1699.2,360.1 1705.9,359.8 1712.5,359.3C1719.2,358.9 1725.8,358.4 1732.5,357.6C1739.1,356.9 1745.8,356.0 1752.4,354.9C1759.1,353.9 1765.7,352.7 1772.4,351.6C1779.0,350.5 1785.7,349.3 1792.3,348.3C1799.0,347.3 1805.6,346.5 1812.3,345.8C1818.9,345.0 1825.6,344.4 1832.2,343.9C1838.9,343.4 1845.5,343.0 1852.2,342.8C1858.8,342.5 1865.5,342.3 1872.1,342.1C1878.8,342.0 1885.4,342.0 1892.1,342.0C1898.7,342.0 1905.4,342.1 1912.0,342.2C1918.7,342.3 1925.3,342.4 1932.0,342.6C1938.6,342.8 1945.3,343.0 1951.9,343.2C1958.6,343.4 1965.2,343.7 1971.9,343.9C1978.5,344.2 1985.2,344.4 1991.8,344.7C1998.5,345.0 2005.1,345.3 2011.8,345.7C2018.4,346.0 2025.1,346.3 2031.7,346.7C2038.4,347.1 2045.0,347.5 2051.7,347.9C2058.3,348.3 2065.0,348.8 2071.6,349.2C2078.3,349.7 2084.9,350.2 2091.6,350.7C2098.2,351.2 2104.9,351.8 2111.5,352.3C2118.2,352.9 2124.8,353.5 2131.5,354.1C2138.1,354.7 2144.8,355.2 2151.4,355.8C2158.1,356.4 2164.7,356.9 2171.4,357.5C2178.0,358.0 2184.7,358.5 2191.3,358.9C2198.0,359.3 2204.6,359.7 2211.3,360.0C2217.9,360.3 2224.6,360.6 2231.2,360.7C2237.9,360.9 2244.5,360.9 2251.2,360.9C2257.8,360.9 2264.5,360.8 2271.1,360.6C2277.8,360.4 2284.4,360.1 2291.1,359.8C2297.7,359.5 2304.4,359.1 2311.0,358.7C2317.7,358.3 2324.3,357.9 2331.0,357.4C2337.6,357.0 2344.3,356.5 2350.9,356.0C2357.6,355.6 2364.2,355.1 2370.9,354.7C2377.5,354.2 2384.2,353.8 2390.8,353.5C2397.5,353.1 2404.1,352.8 2410.8,352.5C2417.4,352.3 2424.1,352.0 2430.7,351.9C2437.4,351.7 2444.0,351.5 2450.7,351.4C2457.3,351.2 2464.0,351.1 2470.6,351.0C2477.3,350.8 2483.9,350.7 2490.6,350.5C2497.2,350.4 2503.9,350.2 2510.5,350.0C2517.2,349.7 2523.8,349.5 2530.5,349.1C2537.1,348.8 2543.8,348.4 2550.4,348.0C2557.1,347.5 2563.7,347.0 2570.4,346.4C2577.0,345.8 2583.7,345.1 2590.3,344.4C2597.0,343.7 2603.6,342.9 2610.3,342.2C2616.9,341.4 2623.6,340.6 2630.2,339.8C2636.9,339.0 2643.5,338.3 2650.2,337.5C2656.8,336.7 2663.5,336.0 2670.1,335.3C2676.8,334.6 2683.4,334.0 2690.1,333.4C2696.7,332.9 2703.4,332.4 2710.0,332.0C2716.7,331.6 2723.3,331.3 2730.0,331.1L2740.0,330.8" stroke="#47851f" stroke-width="8.3"/>
<path d="M106.5,507.7L116.5,507.1C123.2,506.8 129.8,506.6 136.5,506.5C143.1,506.4 149.8,506.5 156.4,506.7C163.1,506.9 169.7,507.2 176.4,507.6C183.0,508.0 189.7,508.5 196.3,509.1C203.0,509.7 209.6,510.3 216.3,511.0C222.9,511.7 229.6,512.5 236.2,513.3C242.9,514.0 249.5,514.9 256.2,515.7C262.8,516.5 269.5,517.4 276.1,518.2C282.8,519.1 289.4,519.9 296.1,520.7C302.7,521.5 309.4,522.2 316.0,522.9C322.7,523.6 329.3,524.3 336.0,524.9C342.6,525.5 349.3,526.0 355.9,526.4C362.6,526.8 369.2,527.2 375.9,527.4C382.5,527.6 389.2,527.7 395.8,527.8C402.5,527.8 409.1,527.9 415.8,528.0C422.4,528.0 429.1,528.1 435.7,528.3C442.4,528.4 449.0,528.6 455.7,528.8C462.3,529.1 469.0,529.3 475.6,529.6C482.3,529.8 488.9,530.1 495.6,530.3C502.2,530.5 508.9,530.8 515.5,530.9C522.2,531.1 528.8,531.3 535.5,531.4C542.1,531.5 548.8,531.5 555.4,531.5C562.1,531.5 568.7,531.5 575.4,531.4C582.0,531.3 588.7,531.2 595.3,531.1C602.0,530.9 608.6,530.8 615.3,530.7C621.9,530.5 628.6,530.4 635.2,530.2C641.9,530.1 648.5,529.9 655.2,529.8C661.8,529.7 668.5,529.6 675.1,529.6C681.8,529.6 688.4,529.6 695.1,529.7C701.7,529.7 708.4,529.9 715.0,530.1C721.7,530.4 728.3,530.7 735.0,531.2C741.6,531.6 748.3,532.2 754.9,532.9C761.6,533.6 768.2,534.5 774.9,535.5C781.5,536.5 788.2,537.7 794.8,539.0C801.5,540.3 808.1,541.8 814.8,543.2C821.4,544.5 828.1,545.8 834.7,546.7C841.4,547.6 848.0,548.2 854.7,548.6C861.3,549.0 868.0,549.2 874.6,549.4C881.3,549.6 887.9,549.6 894.6,549.8C901.2,550.0 907.9,550.3 914.5,550.9C921.2,551.4 927.8,552.2 934.5,553.2C941.1,554.2 947.8,555.3 954.4,556.5C961.1,557.7 967.7,559.0 974.4,560.3C981.0,561.6 987.7,562.9 994.3,564.1C1001.0,565.2 1007.6,566.3 1014.3,567.3C1020.9,568.3 1027.6,569.2 1034.2,570.0C1040.9,570.8 1047.5,571.6 1054.2,572.3C1060.8,573.0 1067.5,573.6 1074.1,574.2C1080.8,574.9 1087.4,575.4 1094.1,576.0C1100.7,576.6 1107.4,577.2 1114.0,577.7C1120.7,578.3 1127.3,578.9 1134.0,579.5C1140.6,580.1 1147.3,580.7 1153.9,581.4C1160.6,582.0 1167.2,582.7 1173.9,583.5C1180.5,584.3 1187.2,585.1 1193.8,586.0C1200.5,586.9 1207.1,587.9 1213.8,588.9C1220.4,589.9 1227.1,591.0 1233.7,592.1C1240.4,593.2 1247.0,594.4 1253.7,595.6C1260.3,596.7 1267.0,597.9 1273.6,599.1C1280.3,600.4 1286.9,601.6 1293.6,602.8C1300.2,604.0 1306.9,605.2 1313.5,606.4C1320.2,607.6 1326.8,608.8 1333.5,609.9C1340.1,611.1 1346.8,612.2 1353.4,613.3C1360.1,614.4 1366.7,615.4 1373.4,616.3C1380.0,617.3 1386.7,618.2 1393.3,619.1C1400.0,619.9 1406.6,620.7 1413.3,621.3C1419.9,622.0 1426.6,622.6 1433.2,623.1C1439.9,623.6 1446.5,624.0 1453.2,624.3C1459.8,624.6 1466.5,624.7 1473.1,624.7C1479.8,624.7 1486.4,624.4 1493.1,624.0C1499.7,623.6 1506.4,623.1 1513.0,622.5C1519.7,621.8 1526.3,621.1 1533.0,620.4C1539.6,619.7 1546.3,619.0 1552.9,618.5C1559.6,617.9 1566.2,617.4 1572.9,617.0C1579.5,616.6 1586.2,616.4 1592.8,616.1C1599.5,615.9 1606.1,615.6 1612.8,615.3C1619.4,615.1 1626.1,614.7 1632.7,614.2C1639.4,613.8 1646.0,613.1 1652.7,612.3C1659.3,611.5 1666.0,610.5 1672.6,609.2C1679.3,607.8 1685.9,606.2 1692.6,604.3C1699.2,602.3 1705.9,600.0 1712.5,597.2C1719.2,594.4 1725.8,591.1 1732.5,587.3C1739.1,583.4 1745.8,579.1 1752.4,574.3C1759.1,569.6 1765.7,564.4 1772.4,559.2C1779.0,553.9 1785.7,548.6 1792.3,543.6C1799.0,538.6 1805.6,534.0 1812.3,529.9C1818.9,525.8 1825.6,522.4 1832.2,519.7C1838.9,517.0 1845.5,514.9 1852.2,513.4C1858.8,511.9 1865.5,510.9 1872.1,510.3C1878.8,509.7 1885.4,509.3 1892.1,509.2C1898.7,509.1 1905.4,509.1 1912.0,509.2C1918.7,509.3 1925.3,509.5 1932.0,509.7C1938.6,509.9 1945.3,510.2 1951.9,510.6C1958.6,510.9 1965.2,511.3 1971.9,511.7C1978.5,512.1 1985.2,512.6 1991.8,513.0C1998.5,513.5 2005.1,513.9 2011.8,514.4C2018.4,514.8 2025.1,515.3 2031.7,515.7C2038.4,516.2 2045.0,516.7 2051.7,517.1C2058.3,517.5 2065.0,518.0 2071.6,518.4C2078.3,518.8 2084.9,519.2 2091.6,519.5C2098.2,519.9 2104.9,520.2 2111.5,520.5C2118.2,520.8 2124.8,521.1 2131.5,521.3C2138.1,521.5 2144.8,521.7 2151.4,521.9C2158.1,522.0 2164.7,522.1 2171.4,522.1C2178.0,522.2 2184.7,522.2 2191.3,522.1C2198.0,522.1 2204.6,522.0 2211.3,521.8C2217.9,521.7 2224.6,521.5 2231.2,521.3C2237.9,521.1 2244.5,520.8 2251.2,520.5C2257.8,520.2 2264.5,519.8 2271.1,519.4C2277.8,519.0 2284.4,518.5 2291.1,518.0C2297.7,517.5 2304.4,516.9 2311.0,516.4C2317.7,515.8 2324.3,515.2 2331.0,514.6C2337.6,514.0 2344.3,513.5 2350.9,513.0C2357.6,512.5 2364.2,512.0 2370.9,511.6C2377.5,511.2 2384.2,510.9 2390.8,510.8C2397.5,510.6 2404.1,510.5 2410.8,510.6C2417.4,510.6 2424.1,510.7 2430.7,510.9C2437.4,511.0 2444.0,511.3 2450.7,511.5C2457.3,511.8 2464.0,512.0 2470.6,512.3C2477.3,512.5 2483.9,512.8 2490.6,513.0C2497.2,513.2 2503.9,513.4 2510.5,513.5C2517.2,513.6 2523.8,513.6 2530.5,513.5C2537.1,513.4 2543.8,513.3 2550.4,512.9C2557.1,512.6 2563.7,512.2 2570.4,511.6C2577.0,511.0 2583.7,510.2 2590.3,509.3C2597.0,508.4 2603.6,507.3 2610.3,506.0C2616.9,504.8 2623.6,503.3 2630.2,501.8C2636.9,500.2 2643.5,498.4 2650.2,496.5C2656.8,494.5 2663.5,492.4 2670.1,490.1C2676.8,487.9 2683.4,485.4 2690.1,483.0C2696.7,480.5 2703.4,478.1 2710.0,475.9C2716.7,473.7 2723.3,471.8 2730.0,470.2L2740.0,467.8" stroke="#fff" stroke-width="12"/>
<path d="M106.5,1264.9L116.5,1264.8C123.2,1264.7 129.8,1264.6 136.5,1264.6C143.1,1264.6 149.8,1264.6 156.4,1264.6C163.1,1264.6 169.7,1264.7 176.4,1264.8C183.0,1264.9 189.7,1265.0 196.3,1265.2C203.0,1265.4 209.6,1265.6 216.3,1265.9C222.9,1266.2 229.6,1266.5 236.2,1266.8C242.9,1267.2 249.5,1267.6 256.2,1268.1C262.8,1268.6 269.5,1269.1 276.1,1269.7C282.8,1270.3 289.4,1270.9 296.1,1271.6C302.7,1272.3 309.4,1273.1 316.0,1273.7C322.7,1274.4 329.3,1274.9 336.0,1275.3C342.6,1275.7 349.3,1275.8 355.9,1275.7C362.6,1275.6 369.2,1275.1 375.9,1274.5C382.5,1273.9 389.2,1273.1 395.8,1272.4C402.5,1271.6 409.1,1270.9 415.8,1270.4C422.4,1269.9 429.1,1269.6 435.7,1269.5C442.4,1269.5 449.0,1269.8 455.7,1270.2C462.3,1270.6 469.0,1271.2 475.6,1271.9C482.3,1272.5 488.9,1273.3 495.6,1274.1C502.2,1274.9 508.9,1275.7 515.5,1276.5C522.2,1277.3 528.8,1278.0 535.5,1278.6C542.1,1279.3 548.8,1279.9 555.4,1280.4C562.1,1280.9 568.7,1281.4 575.4,1281.7C582.0,1282.0 588.7,1282.2 595.3,1282.3C602.0,1282.4 608.6,1282.3 615.3,1282.2C621.9,1282.1 628.6,1281.9 635.2,1281.7C641.9,1281.4 648.5,1281.1 655.2,1280.8C661.8,1280.5 668.5,1280.2 675.1,1279.9C681.8,1279.6 688.4,1279.4 695.1,1279.1C701.7,1278.9 708.4,1278.8 715.0,1278.7C721.7,1278.6 728.3,1278.7 735.0,1278.8C741.6,1279.0 748.3,1279.2 754.9,1279.7C761.6,1280.1 768.2,1280.7 774.9,1281.3C781.5,1281.9 788.2,1282.6 794.8,1283.2C801.5,1283.8 808.1,1284.3 814.8,1284.7C821.4,1285.1 828.1,1285.3 834.7,1285.3C841.4,1285.2 848.0,1285.0 854.7,1284.6C861.3,1284.2 868.0,1283.6 874.6,1283.0C881.3,1282.4 887.9,1281.7 894.6,1281.0C901.2,1280.3 907.9,1279.7 914.5,1279.1C921.2,1278.5 927.8,1278.0 934.5,1277.6C941.1,1277.1 947.8,1276.7 954.4,1276.2C961.1,1275.7 967.7,1275.2 974.4,1274.6C981.0,1274.0 987.7,1273.3 994.3,1272.4C1001.0,1271.6 1007.6,1270.5 1014.3,1269.5C1020.9,1268.4 1027.6,1267.2 1034.2,1266.0C1040.9,1264.8 1047.5,1263.6 1054.2,1262.4C1060.8,1261.2 1067.5,1260.1 1074.1,1259.1C1080.8,1258.1 1087.4,1257.2 1094.1,1256.5C1100.7,1255.7 1107.4,1255.1 1114.0,1254.5C1120.7,1254.0 1127.3,1253.6 1134.0,1253.3C1140.6,1252.9 1147.3,1252.7 1153.9,1252.6C1160.6,1252.5 1167.2,1252.5 1173.9,1252.5C1180.5,1252.6 1187.2,1252.8 1193.8,1253.0C1200.5,1253.3 1207.1,1253.6 1213.8,1254.0C1220.4,1254.5 1227.1,1255.0 1233.7,1255.6C1240.4,1256.2 1247.0,1256.9 1253.7,1257.7C1260.3,1258.5 1267.0,1259.3 1273.6,1260.2C1280.3,1261.1 1286.9,1262.0 1293.6,1263.0C1300.2,1263.9 1306.9,1264.9 1313.5,1265.8C1320.2,1266.8 1326.8,1267.7 1333.5,1268.6C1340.1,1269.5 1346.8,1270.3 1353.4,1271.1C1360.1,1271.9 1366.7,1272.6 1373.4,1273.2C1380.0,1273.8 1386.7,1274.4 1393.3,1274.8C1400.0,1275.2 1406.6,1275.4 1413.3,1275.5C1419.9,1275.7 1426.6,1275.6 1433.2,1275.2C1439.9,1274.8 1446.5,1274.1 1453.2,1273.1C1459.8,1272.1 1466.5,1270.7 1473.1,1269.2C1479.8,1267.8 1486.4,1266.3 1493.1,1264.9C1499.7,1263.5 1506.4,1262.0 1513.0,1260.6C1519.7,1259.2 1526.3,1257.8 1533.0,1256.4C1539.6,1254.9 1546.3,1253.5 1552.9,1251.9C1559.6,1250.4 1566.2,1248.9 1572.9,1247.2C1579.5,1245.6 1586.2,1243.9 1592.8,1242.1C1599.5,1240.3 1606.1,1238.4 1612.8,1236.4C1619.4,1234.4 1626.1,1232.2 1632.7,1230.0C1639.4,1227.7 1646.0,1225.2 1652.7,1222.6C1659.3,1220.0 1666.0,1217.2 1672.6,1214.1C1679.3,1211.1 1685.9,1207.9 1692.6,1204.5C1699.2,1201.0 1705.9,1197.4 1712.5,1193.3C1719.2,1189.3 1725.8,1184.9 1732.5,1179.9C1739.1,1175.0 1745.8,1169.6 1752.4,1163.5C1759.1,1157.5 1765.7,1150.6 1772.4,1143.5C1779.0,1136.5 1785.7,1129.4 1792.3,1123.4C1799.0,1117.4 1805.6,1112.4 1812.3,1108.2C1818.9,1104.1 1825.6,1100.8 1832.2,1098.0C1838.9,1095.3 1845.5,1093.1 1852.2,1091.3C1858.8,1089.5 1865.5,1088.0 1872.1,1086.6C1878.8,1085.3 1885.4,1084.3 1892.1,1083.4C1898.7,1082.5 1905.4,1081.8 1912.0,1081.3C1918.7,1080.7 1925.3,1080.4 1932.0,1080.1C1938.6,1079.9 1945.3,1079.8 1951.9,1079.7C1958.6,1079.7 1965.2,1079.8 1971.9,1079.9C1978.5,1080.0 1985.2,1080.2 1991.8,1080.5C1998.5,1080.7 2005.1,1080.9 2011.8,1081.2C2018.4,1081.4 2025.1,1081.6 2031.7,1081.7C2038.4,1081.8 2045.0,1081.8 2051.7,1081.7C2058.3,1081.6 2065.0,1081.3 2071.6,1080.9C2078.3,1080.6 2084.9,1080.1 2091.6,1079.5C2098.2,1078.9 2104.9,1078.3 2111.5,1077.7C2118.2,1077.0 2124.8,1076.3 2131.5,1075.6C2138.1,1074.9 2144.8,1074.2 2151.4,1073.5C2158.1,1072.8 2164.7,1072.1 2171.4,1071.4C2178.0,1070.7 2184.7,1070.0 2191.3,1069.4C2198.0,1068.7 2204.6,1068.0 2211.3,1067.3C2217.9,1066.7 2224.6,1066.0 2231.2,1065.3C2237.9,1064.7 2244.5,1064.0 2251.2,1063.4C2257.8,1062.7 2264.5,1062.1 2271.1,1061.5C2277.8,1060.8 2284.4,1060.2 2291.1,1059.6C2297.7,1059.0 2304.4,1058.4 2311.0,1057.8C2317.7,1057.2 2324.3,1056.6 2331.0,1056.0C2337.6,1055.4 2344.3,1054.8 2350.9,1054.3C2357.6,1053.7 2364.2,1053.1 2370.9,1052.6C2377.5,1052.0 2384.2,1051.5 2390.8,1051.0C2397.5,1050.4 2404.1,1049.9 2410.8,1049.4C2417.4,1048.9 2424.1,1048.4 2430.7,1047.9C2437.4,1047.5 2444.0,1047.0 2450.7,1046.5C2457.3,1046.1 2464.0,1045.6 2470.6,1045.2C2477.3,1044.8 2483.9,1044.4 2490.6,1044.0C2497.2,1043.6 2503.9,1043.2 2510.5,1042.8C2517.2,1042.4 2523.8,1042.1 2530.5,1041.7C2537.1,1041.4 2543.8,1041.1 2550.4,1040.7C2557.1,1040.4 2563.7,1039.9 2570.4,1039.0C2577.0,1038.1 2583.7,1036.9 2590.3,1035.4C2597.0,1034.0 2603.6,1032.4 2610.3,1030.6C2616.9,1028.9 2623.6,1026.9 2630.2,1024.5C2636.9,1022.1 2643.5,1019.2 2650.2,1015.8C2656.8,1012.3 2663.5,1008.3 2670.1,1004.0C2676.8,999.8 2683.4,995.2 2690.1,990.5C2696.7,985.8 2703.4,981.0 2710.0,976.3C2716.7,971.7 2723.3,967.1 2730.0,962.9L2740.0,956.5" stroke="#fff" stroke-width="12"/>
<path d="M106.5,1502.5L116.5,1502.5C123.2,1502.5 129.8,1502.5 136.5,1502.5C143.1,1502.5 149.8,1502.5 156.4,1502.6C163.1,1502.6 169.7,1502.6 176.4,1502.6C183.0,1502.6 189.7,1502.6 196.3,1502.6C203.0,1502.6 209.6,1502.6 216.3,1502.5C222.9,1502.5 229.6,1502.5 236.2,1502.5C242.9,1502.5 249.5,1502.4 256.2,1502.4C262.8,1502.4 269.5,1502.3 276.1,1502.3C282.8,1502.2 289.4,1502.2 296.1,1502.1C302.7,1502.0 309.4,1501.9 316.0,1501.9C322.7,1501.8 329.3,1501.7 336.0,1501.6C342.6,1501.5 349.3,1501.4 355.9,1501.2C362.6,1501.1 369.2,1501.0 375.9,1500.8C382.5,1500.7 389.2,1500.5 395.8,1500.3C402.5,1500.2 409.1,1500.0 415.8,1499.8C422.4,1499.6 429.1,1499.4 435.7,1499.1C442.4,1498.9 449.0,1498.7 455.7,1498.4C462.3,1498.1 469.0,1497.9 475.6,1497.6C482.3,1497.3 488.9,1497.0 495.6,1496.6C502.2,1496.3 508.9,1495.9 515.5,1495.6C522.2,1495.2 528.8,1494.8 535.5,1494.3C542.1,1493.9 548.8,1493.4 555.4,1492.9C562.1,1492.4 568.7,1491.9 575.4,1491.3C582.0,1490.7 588.7,1490.1 595.3,1489.4C602.0,1488.7 608.6,1488.0 615.3,1487.2C621.9,1486.4 628.6,1485.5 635.2,1484.7C641.9,1483.8 648.5,1482.9 655.2,1482.1C661.8,1481.2 668.5,1480.4 675.1,1479.6C681.8,1478.8 688.4,1478.1 695.1,1477.4C701.7,1476.7 708.4,1476.1 715.0,1475.6C721.7,1475.1 728.3,1474.7 735.0,1474.3C741.6,1474.0 748.3,1473.7 754.9,1473.6C761.6,1473.4 768.2,1473.4 774.9,1473.4C781.5,1473.5 788.2,1473.6 794.8,1473.8C801.5,1474.0 808.1,1474.1 814.8,1474.3C821.4,1474.5 828.1,1474.7 834.7,1474.8C841.4,1475.0 848.0,1475.2 854.7,1475.3C861.3,1475.5 868.0,1475.7 874.6,1475.8C881.3,1476.0 887.9,1476.1 894.6,1476.2C901.2,1476.3 907.9,1476.5 914.5,1476.5C921.2,1476.6 927.8,1476.7 934.5,1476.8C941.1,1476.8 947.8,1476.8 954.4,1476.8C961.1,1476.8 967.7,1476.8 974.4,1476.8C981.0,1476.7 987.7,1476.6 994.3,1476.5C1001.0,1476.4 1007.6,1476.2 1014.3,1476.0C1020.9,1475.8 1027.6,1475.6 1034.2,1475.3C1040.9,1475.1 1047.5,1474.8 1054.2,1474.4C1060.8,1474.0 1067.5,1473.6 1074.1,1473.2C1080.8,1472.7 1087.4,1472.2 1094.1,1471.6C1100.7,1471.0 1107.4,1470.4 1114.0,1469.8C1120.7,1469.2 1127.3,1468.6 1134.0,1468.0C1140.6,1467.4 1147.3,1466.9 1153.9,1466.4C1160.6,1465.9 1167.2,1465.5 1173.9,1465.3C1180.5,1465.0 1187.2,1464.8 1193.8,1464.8C1200.5,1464.8 1207.1,1464.9 1213.8,1465.0C1220.4,1465.2 1227.1,1465.4 1233.7,1465.6C1240.4,1465.9 1247.0,1466.1 1253.7,1466.3C1260.3,1466.5 1267.0,1466.7 1273.6,1466.8C1280.3,1466.9 1286.9,1467.0 1293.6,1467.0C1300.2,1467.0 1306.9,1467.0 1313.5,1466.9C1320.2,1466.9 1326.8,1466.7 1333.5,1466.5C1340.1,1466.3 1346.8,1466.1 1353.4,1465.8C1360.1,1465.5 1366.7,1465.1 1373.4,1464.7C1380.0,1464.2 1386.7,1463.7 1393.3,1463.1C1400.0,1462.6 1406.6,1461.9 1413.3,1461.2C1419.9,1460.4 1426.6,1459.6 1433.2,1458.7C1439.9,1457.8 1446.5,1456.9 1453.2,1455.8C1459.8,1454.7 1466.5,1453.6 1473.1,1452.3C1479.8,1451.1 1486.4,1449.8 1493.1,1448.4C1499.7,1447.0 1506.4,1445.6 1513.0,1444.1C1519.7,1442.6 1526.3,1441.1 1533.0,1439.5C1539.6,1437.9 1546.3,1436.4 1552.9,1434.8C1559.6,1433.2 1566.2,1431.6 1572.9,1430.1C1579.5,1428.5 1586.2,1427.0 1592.8,1425.4C1599.5,1423.9 1606.1,1422.4 1612.8,1420.8C1619.4,1419.2 1626.1,1417.6 1632.7,1415.8C1639.4,1414.0 1646.0,1412.1 1652.7,1409.9C1659.3,1407.8 1666.0,1405.4 1672.6,1402.7C1679.3,1400.0 1685.9,1397.0 1692.6,1393.4C1699.2,1389.9 1705.9,1385.8 1712.5,1381.1C1719.2,1376.5 1725.8,1371.2 1732.5,1365.2C1739.1,1359.2 1745.8,1352.6 1752.4,1345.8C1759.1,1339.0 1765.7,1331.9 1772.4,1324.9C1779.0,1318.0 1785.7,1311.2 1792.3,1304.9C1799.0,1298.6 1805.6,1292.9 1812.3,1287.9C1818.9,1282.8 1825.6,1278.3 1832.2,1274.2C1838.9,1270.2 1845.5,1266.6 1852.2,1263.5C1858.8,1260.4 1865.5,1257.6 1872.1,1255.2C1878.8,1252.7 1885.4,1250.6 1892.1,1248.7C1898.7,1246.8 1905.4,1245.1 1912.0,1243.6C1918.7,1242.1 1925.3,1241.0 1932.0,1240.3C1938.6,1239.6 1945.3,1239.3 1951.9,1239.4C1958.6,1239.4 1965.2,1239.8 1971.9,1240.5C1978.5,1241.1 1985.2,1241.9 1991.8,1242.9C1998.5,1243.8 2005.1,1244.8 2011.8,1245.7C2018.4,1246.7 2025.1,1247.5 2031.7,1248.2C2038.4,1248.8 2045.0,1249.2 2051.7,1249.4C2058.3,1249.5 2065.0,1249.3 2071.6,1248.7C2078.3,1248.2 2084.9,1247.2 2091.6,1245.6C2098.2,1244.1 2104.9,1242.1 2111.5,1239.7C2118.2,1237.3 2124.8,1234.6 2131.5,1231.8C2138.1,1228.9 2144.8,1225.9 2151.4,1222.9C2158.1,1220.0 2164.7,1217.2 2171.4,1214.7C2178.0,1212.2 2184.7,1210.2 2191.3,1208.5C2198.0,1206.7 2204.6,1205.4 2211.3,1204.2C2217.9,1203.0 2224.6,1202.1 2231.2,1201.3C2237.9,1200.5 2244.5,1199.8 2251.2,1199.2C2257.8,1198.7 2264.5,1198.2 2271.1,1197.7C2277.8,1197.2 2284.4,1196.8 2291.1,1196.3C2297.7,1195.8 2304.4,1195.2 2311.0,1194.6C2317.7,1193.9 2324.3,1193.2 2331.0,1192.5C2337.6,1191.8 2344.3,1191.0 2350.9,1190.2C2357.6,1189.5 2364.2,1188.7 2370.9,1187.9C2377.5,1187.2 2384.2,1186.5 2390.8,1185.8C2397.5,1185.1 2404.1,1184.5 2410.8,1183.9C2417.4,1183.4 2424.1,1182.9 2430.7,1182.5C2437.4,1182.1 2444.0,1181.9 2450.7,1181.7C2457.3,1181.6 2464.0,1181.6 2470.6,1181.7C2477.3,1181.9 2483.9,1182.2 2490.6,1182.6C2497.2,1182.9 2503.9,1183.4 2510.5,1183.9C2517.2,1184.4 2523.8,1185.0 2530.5,1185.5C2537.1,1186.0 2543.8,1186.6 2550.4,1187.0C2557.1,1187.5 2563.7,1187.9 2570.4,1188.1C2577.0,1188.3 2583.7,1188.4 2590.3,1188.1C2597.0,1187.9 2603.6,1187.4 2610.3,1186.6C2616.9,1185.7 2623.6,1184.5 2630.2,1182.8C2636.9,1181.1 2643.5,1178.9 2650.2,1176.2C2656.8,1173.4 2663.5,1170.1 2670.1,1166.4C2676.8,1162.7 2683.4,1158.6 2690.1,1154.4C2696.7,1150.2 2703.4,1146.0 2710.0,1141.8C2716.7,1137.6 2723.3,1133.6 2730.0,1129.9L2740.0,1124.3" stroke="#dde8f9" stroke-width="8.4"/>
</g>
<rect x="1455.6" y="120.6" width="2.6" height="34.6" fill="#808080"/>
<g fill="#fff">
<rect x="52.8" y="24.5" width="47.8" height="12"/><rect x="52.8" y="45.8" width="29.5" height="12.8"/><rect x="52.8" y="68.3" width="47.8" height="12.1"/>
<path d="M66,18.6 L88.9,8.2 L88.9,18.6Z"/>
<path d="M110.3,24.5h14v43.8h25.6V80.4H110.3z"/>
<rect x="273.8" y="24.5" width="13.5" height="55.9"/>
</g>
<g fill="none" stroke="#fff">
<path d="M162.3,24.5V56.85a18,18 0 0 0 36,0V24.5" stroke-width="12.5"/>
<path d="M260.55,37.82A23.3,23.3 0 1 0 260.55,67.78" stroke-width="13.2"/>
<path d="M306.3,31H323.05a21.45,21.45 0 0 1 0,42.9H306.3z" stroke-width="13"/>
</g>
<rect x="387.7" y="0" width="4.6" height="100" fill="#fff"/>
<path d="M2821.2,1609.2 L2876.6,1585.8 L2876.6,1609.2Z" fill="#3f58c8"/>
<path d="M2821.2,1609.5 L2875,1609.5 L2821.2,1633Z" fill="#fff"/>
</svg>
<div class="t" style="left:430.0px;top:27.1px;font-size:56px;line-height:56px;font-weight:bold;color:#fff;transform:scaleX(1.0894)">Structure des recettes de la Sécurité sociale en France, 1960-2019</div>
<div class="t" style="left:427.6px;top:117.8px;font-size:43.5px;line-height:43.5px;font-weight:normal;color:#3f58c8;-webkit-text-stroke:0.78px #fff;transform:scaleX(1.1134)">En pourcentage du total. Hors transferts. Lissé</div>
<div class="t" style="left:1488.1px;top:117.8px;font-size:43.5px;line-height:43.5px;font-weight:normal;color:#808080;-webkit-text-stroke:0.78px #fff;transform:scaleX(1.1087)">Source : Bürbaumer & Pinsard (2025)</div>
<div class="t" style="left:2775.0px;top:1478.8px;font-size:47.5px;line-height:47.5px;font-weight:normal;color:#1f1f1f;-webkit-text-stroke:0.85px #fff;transform:scaleX(1.0657)">0</div>
<div class="t" style="left:2772.5px;top:1350.5px;font-size:47.5px;line-height:47.5px;font-weight:normal;color:#1f1f1f;-webkit-text-stroke:0.85px #fff;transform:scaleX(0.8978)">10 %</div>
<div class="t" style="left:2773.3px;top:1221.3px;font-size:47.5px;line-height:47.5px;font-weight:normal;color:#1f1f1f;-webkit-text-stroke:0.85px #fff;transform:scaleX(1.0022)">20 %</div>
<div class="t" style="left:2774.1px;top:1092.0px;font-size:47.5px;line-height:47.5px;font-weight:normal;color:#1f1f1f;-webkit-text-stroke:0.85px #fff;transform:scaleX(0.9951)">30 %</div>
<div class="t" style="left:2774.8px;top:962.8px;font-size:47.5px;line-height:47.5px;font-weight:normal;color:#1f1f1f;-webkit-text-stroke:0.85px #fff;transform:scaleX(0.9881)">40 %</div>
<div class="t" style="left:2774.1px;top:833.5px;font-size:47.5px;line-height:47.5px;font-weight:normal;color:#1f1f1f;-webkit-text-stroke:0.85px #fff;transform:scaleX(0.9951)">50 %</div>
<div class="t" style="left:2773.3px;top:704.3px;font-size:47.5px;line-height:47.5px;font-weight:normal;color:#1f1f1f;-webkit-text-stroke:0.85px #fff;transform:scaleX(1.0022)">60 %</div>
<div class="t" style="left:2773.3px;top:575.0px;font-size:47.5px;line-height:47.5px;font-weight:normal;color:#1f1f1f;-webkit-text-stroke:0.85px #fff;transform:scaleX(1.0022)">70 %</div>
<div class="t" style="left:2774.1px;top:446.2px;font-size:47.5px;line-height:47.5px;font-weight:normal;color:#1f1f1f;-webkit-text-stroke:0.85px #fff;transform:scaleX(0.9951)">80 %</div>
<div class="t" style="left:2773.3px;top:318.0px;font-size:47.5px;line-height:47.5px;font-weight:normal;color:#1f1f1f;-webkit-text-stroke:0.85px #fff;transform:scaleX(1.0022)">90 %</div>
<div class="t" style="left:2772.8px;top:186.7px;font-size:47.5px;line-height:47.5px;font-weight:normal;color:#1f1f1f;-webkit-text-stroke:0.85px #fff;transform:scaleX(0.9502)">100 %</div>
<div class="t" style="left:62.9px;top:1539.5px;font-size:47.5px;line-height:47.5px;font-weight:normal;color:#1f1f1f;-webkit-text-stroke:0.85px #fff;transform:scaleX(0.9984)">1960</div>
<div class="t" style="left:285.1px;top:1539.5px;font-size:47.5px;line-height:47.5px;font-weight:normal;color:#1f1f1f;-webkit-text-stroke:0.85px #fff;transform:scaleX(0.9908)">1965</div>
<div class="t" style="left:507.2px;top:1539.5px;font-size:47.5px;line-height:47.5px;font-weight:normal;color:#1f1f1f;-webkit-text-stroke:0.85px #fff;transform:scaleX(0.9736)">1970</div>
<div class="t" style="left:728.7px;top:1539.5px;font-size:47.5px;line-height:47.5px;font-weight:normal;color:#1f1f1f;-webkit-text-stroke:0.85px #fff;transform:scaleX(0.9808)">1975</div>
<div class="t" style="left:948.9px;top:1539.5px;font-size:47.5px;line-height:47.5px;font-weight:normal;color:#1f1f1f;-webkit-text-stroke:0.85px #fff;transform:scaleX(0.9984)">1980</div>
<div class="t" style="left:1171.1px;top:1539.5px;font-size:47.5px;line-height:47.5px;font-weight:normal;color:#1f1f1f;-webkit-text-stroke:0.85px #fff;transform:scaleX(0.9908)">1985</div>
<div class="t" style="left:1391.9px;top:1539.5px;font-size:47.5px;line-height:47.5px;font-weight:normal;color:#1f1f1f;-webkit-text-stroke:0.85px #fff;transform:scaleX(0.9984)">1990</div>
<div class="t" style="left:1614.1px;top:1539.5px;font-size:47.5px;line-height:47.5px;font-weight:normal;color:#1f1f1f;-webkit-text-stroke:0.85px #fff;transform:scaleX(0.9908)">1995</div>
<div class="t" style="left:1827.6px;top:1539.5px;font-size:47.5px;line-height:47.5px;font-weight:normal;color:#1f1f1f;-webkit-text-stroke:0.85px #fff;transform:scaleX(1.1420)">2000</div>
<div class="t" style="left:2050.0px;top:1539.5px;font-size:47.5px;line-height:47.5px;font-weight:normal;color:#1f1f1f;-webkit-text-stroke:0.85px #fff;transform:scaleX(1.1325)">2005</div>
<div class="t" style="left:2278.6px;top:1539.5px;font-size:47.5px;line-height:47.5px;font-weight:normal;color:#1f1f1f;-webkit-text-stroke:0.85px #fff;transform:scaleX(0.9911)">2010</div>
<div class="t" style="left:2500.9px;top:1539.5px;font-size:47.5px;line-height:47.5px;font-weight:normal;color:#1f1f1f;-webkit-text-stroke:0.85px #fff;transform:scaleX(0.9835)">2015</div>
<div class="t" style="left:142.3px;top:389.2px;font-size:49.5px;line-height:49.5px;font-weight:normal;color:#fff;-webkit-text-stroke:1.98px #fff;transform:scaleX(0.9616)">12 %</div>
<div class="t" style="left:144.4px;top:809.8px;font-size:49.5px;line-height:49.5px;font-weight:normal;color:#fff;-webkit-text-stroke:1.98px #fff;transform:scaleX(1.0493)">59 %</div>
<div class="t" style="left:142.3px;top:1358.8px;font-size:49.5px;line-height:49.5px;font-weight:normal;color:#fff;-webkit-text-stroke:1.98px #fff;transform:scaleX(0.9616)">18 %</div>
<div class="t" style="left:2624.1px;top:383.1px;font-size:49.5px;line-height:49.5px;font-weight:normal;color:#fff;-webkit-text-stroke:1.98px #fff;transform:scaleX(0.8990)">11 %</div>
<div class="t" style="left:2605.2px;top:716.8px;font-size:49.5px;line-height:49.5px;font-weight:normal;color:#fff;-webkit-text-stroke:1.98px #fff;transform:scaleX(1.0064)">38 %</div>
<div class="t" style="left:2612.0px;top:1066.4px;font-size:49.5px;line-height:49.5px;font-weight:normal;color:#fff;-webkit-text-stroke:1.98px #fff;transform:scaleX(0.9570)">13 %</div>
<div class="t" style="left:2598.9px;top:1354.7px;font-size:49.5px;line-height:49.5px;font-weight:normal;color:#fff;-webkit-text-stroke:1.98px #fff;transform:scaleX(1.0630)">29 %</div>
<div class="t" style="left:1955.3px;top:409.3px;font-size:49px;line-height:49px;font-weight:normal;color:#fff;-webkit-text-stroke:1.96px #fff;transform:scaleX(1.1295)">Cotisations employés</div>
<div class="t" style="left:1840.7px;top:735.7px;font-size:52.5px;line-height:52.5px;font-weight:normal;color:#fff;-webkit-text-stroke:2.10px #fff;transform:scaleX(1.1702)">Cotisations employeurs</div>
<div class="t" style="left:2002.2px;top:801.4px;font-size:51px;line-height:51px;font-weight:normal;color:#fff;transform:scaleX(1.0633)">(dont cot. imputées)</div>
<div class="t" style="left:1831.7px;top:1114.5px;font-size:52.5px;line-height:52.5px;font-weight:normal;color:#fff;-webkit-text-stroke:2.10px #fff;transform:scaleX(1.1846)">Contributions publiques</div>
<div class="t" style="left:2050.3px;top:1345.4px;font-size:53px;line-height:53px;font-weight:normal;color:#fff;-webkit-text-stroke:2.12px #fff;transform:scaleX(1.1616)">Taxes et impôts</div>
<div class="t" style="left:2551.0px;top:1608.2px;font-size:29.3px;line-height:29.3px;font-weight:bold;color:#fff;transform:scaleX(1.0215)">www.elucid.media</div>
</body></html>
